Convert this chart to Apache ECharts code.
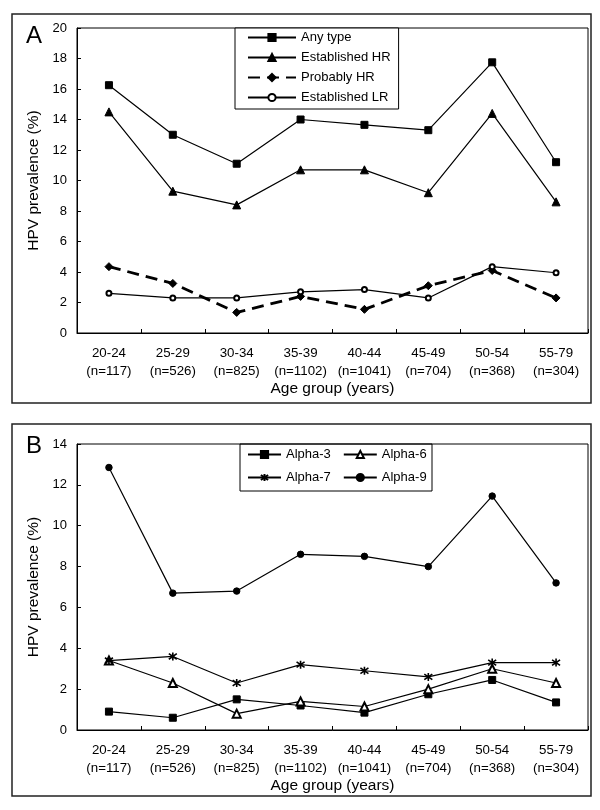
<!DOCTYPE html>
<html>
<head>
<meta charset="utf-8">
<script src="https://cdn.jsdelivr.net/npm/echarts@6/dist/echarts.min.js"></script>
<style>
html,body{margin:0;padding:0;background:#fff;}
#chart{width:600px;height:810px;}
</style>
</head>
<body>
<div id="chart"></div>
<script>
var categories = ['20-24\n(n=117)','25-29\n(n=526)','30-34\n(n=825)','35-39\n(n=1102)','40-44\n(n=1041)','45-49\n(n=704)','50-54\n(n=368)','55-79\n(n=304)'];
var anyType = [16.25, 13.0, 11.1, 14.0, 13.65, 13.3, 17.75, 11.2];
var establishedHR = [14.5, 9.3, 8.4, 10.7, 10.7, 9.2, 14.4, 8.6];
var probablyHR = [4.35, 3.25, 1.35, 2.4, 1.55, 3.1, 4.1, 2.3];
var establishedLR = [2.6, 2.3, 2.3, 2.7, 2.85, 2.3, 4.35, 3.95];
var alpha3 = [0.9, 0.6, 1.5, 1.2, 0.85, 1.75, 2.45, 1.35];
var alpha6 = [3.4, 2.3, 0.8, 1.4, 1.15, 2.0, 3.0, 2.3];
var alpha7 = [3.4, 3.6, 2.3, 3.2, 2.9, 2.6, 3.3, 3.3];
var alpha9 = [12.85, 6.7, 6.8, 8.6, 8.5, 8.0, 11.45, 7.2];
var yTicksA = {min: 0, max: 20, interval: 2};
var yTicksB = {min: 0, max: 14, interval: 2};

var FONT = '"Liberation Sans", Arial, sans-serif';
var asterisk = 'path://M5 0 L5 10 M1 1.5 L9 8.5 M1 8.5 L9 1.5';

function xAxis(gi){
  return {
    type: 'category', gridIndex: gi, data: categories, boundaryGap: true,
    axisLine: {lineStyle: {color: '#000', width: 1}},
    axisTick: {show: true, inside: true, length: 4, alignWithLabel: false, lineStyle: {color: '#000'}},
    axisLabel: {color: '#000', fontFamily: FONT, fontSize: 13.3, lineHeight: 18, margin: 11, interval: 0},
    name: 'Age group (years)', nameLocation: 'middle', nameGap: 47,
    nameTextStyle: {color: '#000', fontFamily: FONT, fontSize: 15.5},
    splitLine: {show: false}
  };
}
function yAxis(gi, t){
  return {
    type: 'value', gridIndex: gi, min: t.min, max: t.max, interval: t.interval,
    axisLine: {show: true, lineStyle: {color: '#000', width: 1}},
    axisTick: {show: true, inside: true, length: 4, lineStyle: {color: '#000'}},
    axisLabel: {color: '#000', fontFamily: FONT, fontSize: 13, margin: 10},
    splitLine: {show: false},
    name: 'HPV prevalence (%)', nameLocation: 'middle', nameGap: 31, nameRotate: 90,
    nameTextStyle: {color: '#000', fontFamily: FONT, fontSize: 15.5}
  };
}
function line(name, data, gi, symbol, size, extra, bw){
  var s = {
    name: name, type: 'line', xAxisIndex: gi, yAxisIndex: gi, data: data,
    symbol: symbol, symbolSize: size, showAllSymbol: true,
    lineStyle: {color: '#000', width: 1.2},
    itemStyle: {color: '#000', borderColor: '#000', borderWidth: bw || 1},
    animation: false
  };
  if (extra) Object.assign(s.lineStyle, extra);
  return s;
}

var chart = echarts.init(document.getElementById('chart'), null, {renderer: 'canvas'});
var legendText = {color: '#000', fontFamily: FONT, fontSize: 13};
chart.setOption({
  backgroundColor: '#fff',
  animation: false,
  grid: [
    {left: 77, right: 12, top: 28, height: 305, show: true, borderColor: '#000', borderWidth: 1, containLabel: false},
    {left: 77, right: 12, top: 444, height: 286, show: true, borderColor: '#000', borderWidth: 1, containLabel: false}
  ],
  xAxis: [xAxis(0), xAxis(1)],
  yAxis: [yAxis(0, yTicksA), yAxis(1, yTicksB)],
  legend: [
    {orient: 'vertical', left: 235, top: 28, itemWidth: 48, itemHeight: 9, itemGap: 7,
     padding: [3, 8, 5, 12], borderColor: '#000', borderWidth: 1, backgroundColor: '#fff',
     textStyle: legendText, data: ['Any type', 'Established HR', 'Probably HR', 'Established LR']},
    {orient: 'horizontal', left: 247, top: 448, itemWidth: 33, itemHeight: 9, itemGap: 12, padding: 0,
     textStyle: legendText, data: ['Alpha-3', 'Alpha-6']},
    {orient: 'horizontal', left: 247, top: 471, itemWidth: 33, itemHeight: 9, itemGap: 12, padding: 0,
     textStyle: legendText, data: ['Alpha-7', 'Alpha-9']}
  ],
  series: [
    line('Any type', anyType, 0, 'rect', 7),
    line('Established HR', establishedHR, 0, 'triangle', 8),
    line('Probably HR', probablyHR, 0, 'diamond', 8, {width: 2.8, type: [12, 7]}),
    line('Established LR', establishedLR, 0, 'emptyCircle', 5),
    line('Alpha-3', alpha3, 1, 'rect', 7),
    line('Alpha-6', alpha6, 1, 'emptyTriangle', 8),
    line('Alpha-7', alpha7, 1, asterisk, 8, null, 1.6),
    line('Alpha-9', alpha9, 1, 'circle', 6.5)
  ],
  graphic: [
    {type: 'rect', shape: {x: 12, y: 14, width: 579, height: 389}, style: {fill: 'none', stroke: '#222', lineWidth: 1.5}, silent: true, z: -1},
    {type: 'rect', shape: {x: 12, y: 424, width: 579, height: 372}, style: {fill: 'none', stroke: '#222', lineWidth: 1.5}, silent: true, z: -1},
    {type: 'rect', shape: {x: 240, y: 444, width: 192, height: 47}, style: {fill: 'none', stroke: '#000', lineWidth: 1}, silent: true, z: 10},
    {type: 'text', left: 26, top: 24, style: {text: 'A', fill: '#000', font: '24px ' + FONT}},
    {type: 'text', left: 26, top: 434, style: {text: 'B', fill: '#000', font: '24px ' + FONT}}
  ]
});
</script>
</body>
</html>
